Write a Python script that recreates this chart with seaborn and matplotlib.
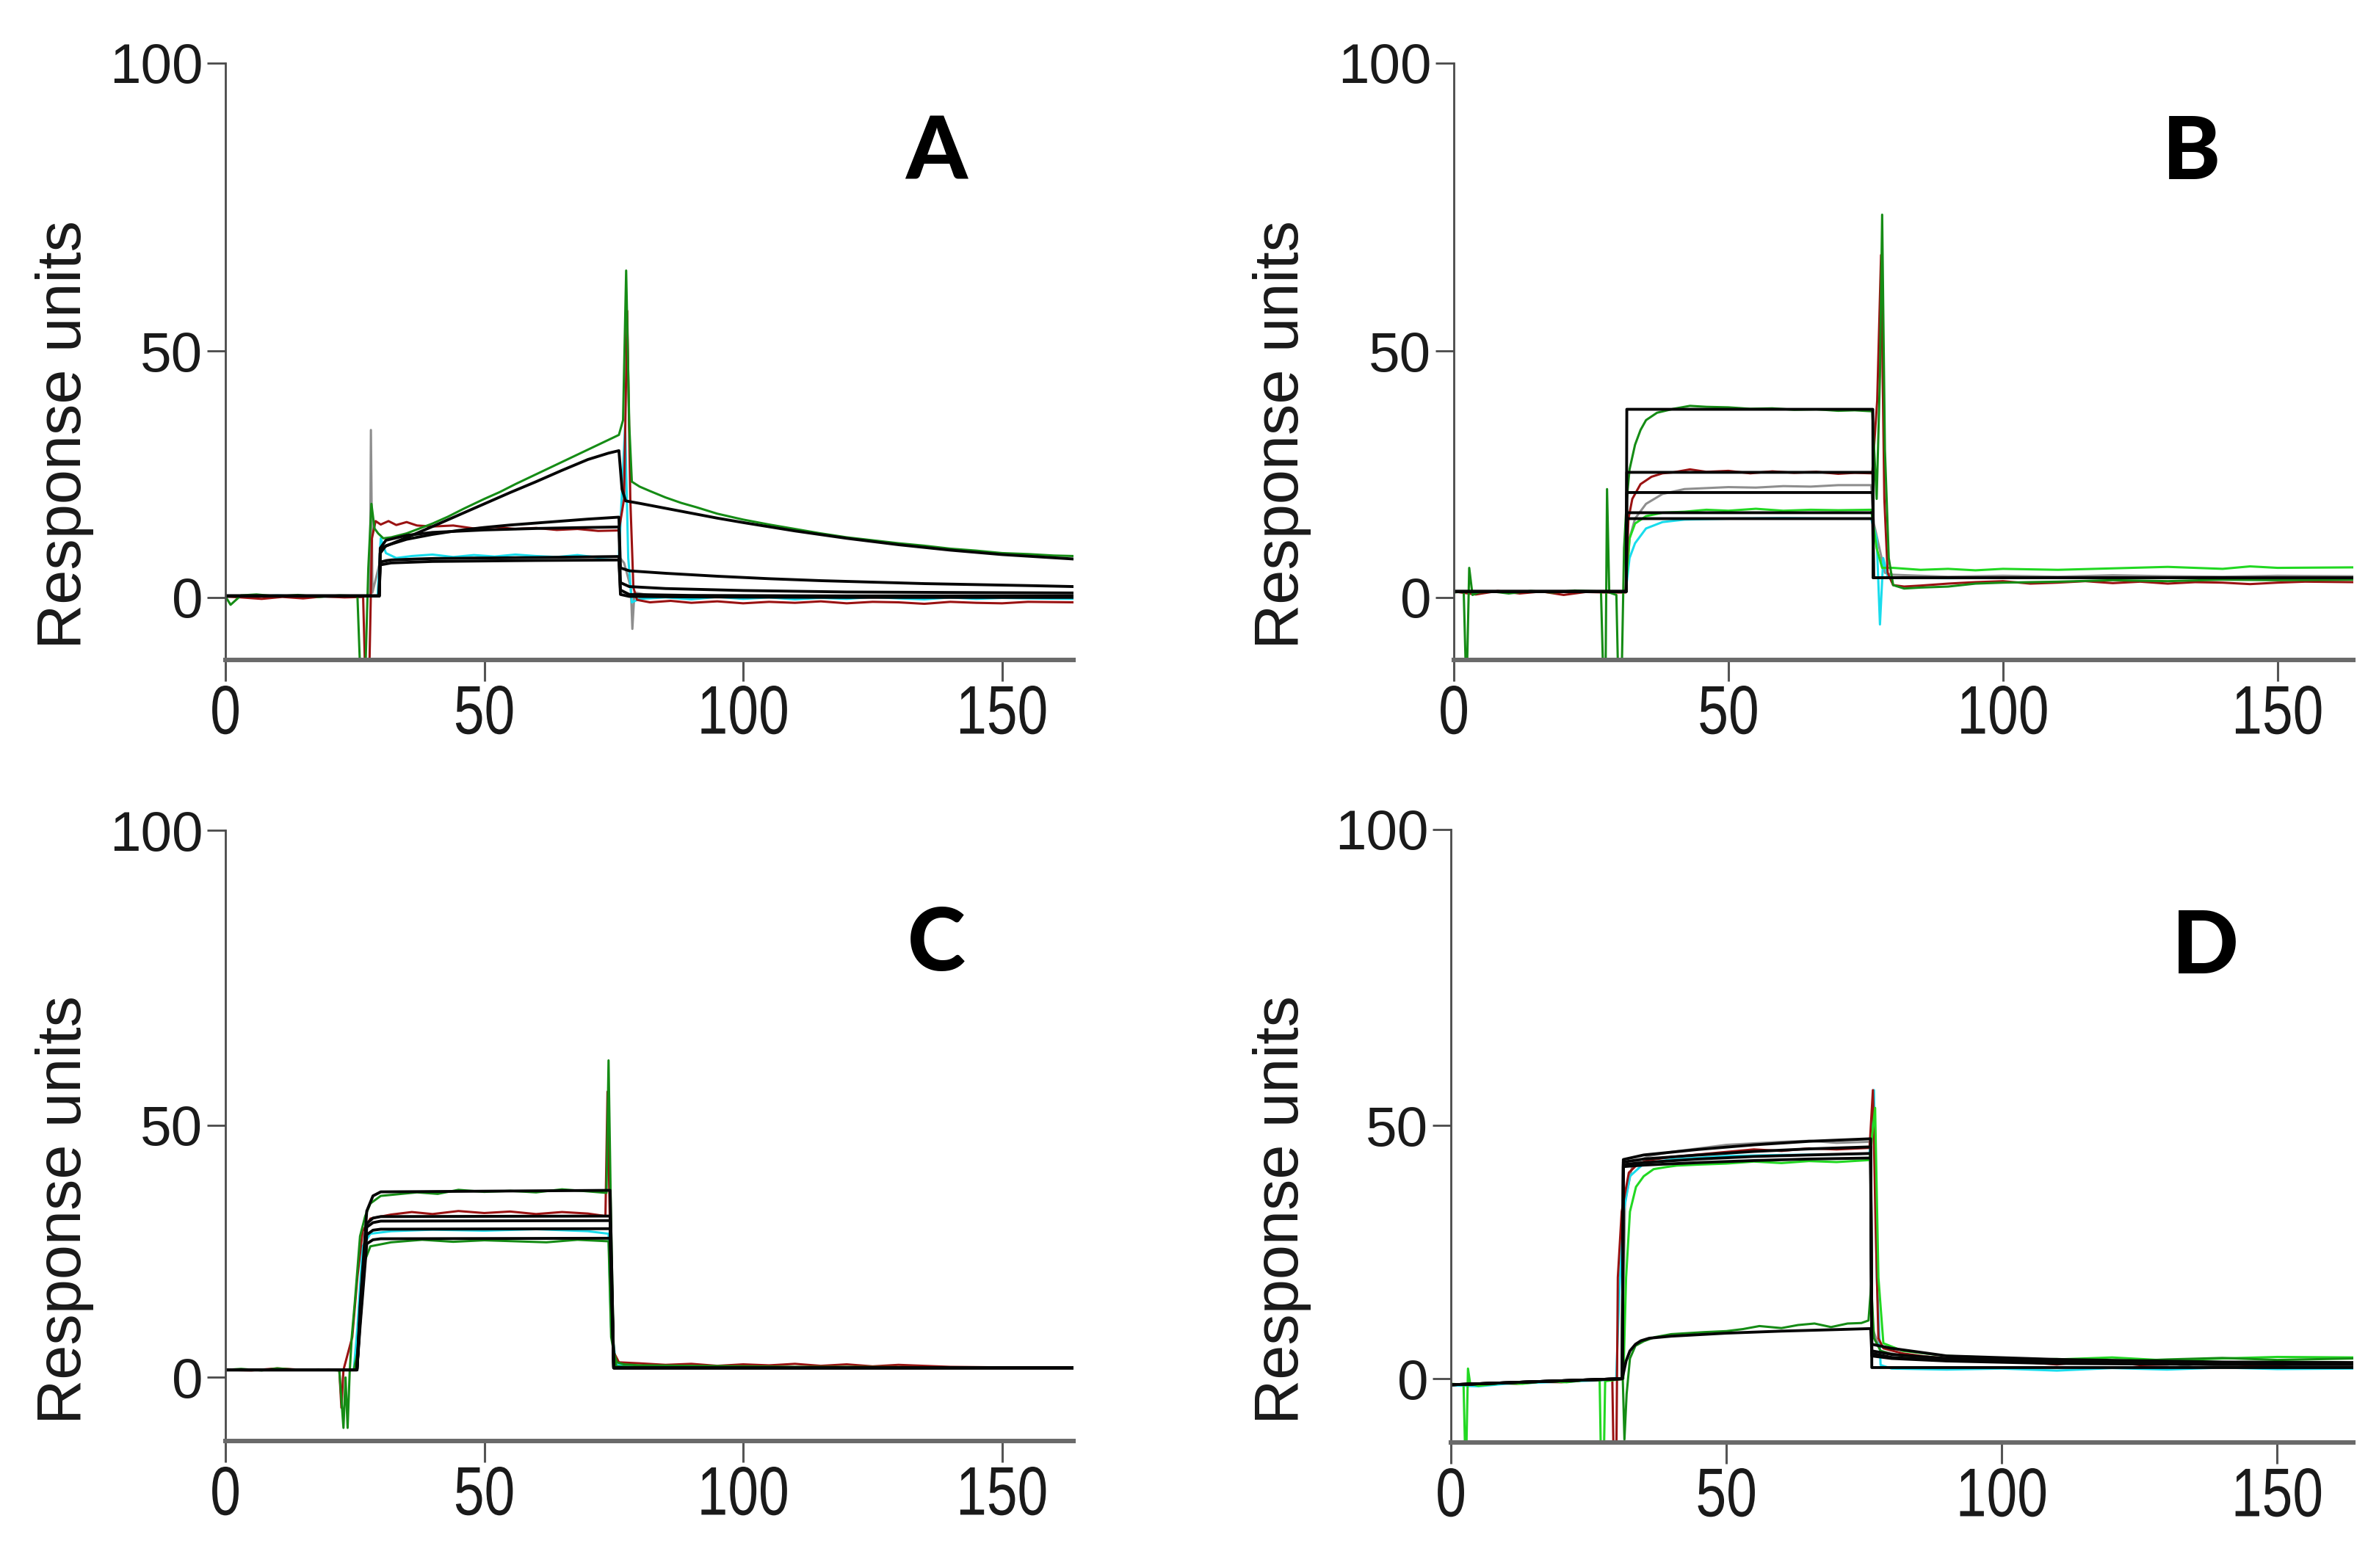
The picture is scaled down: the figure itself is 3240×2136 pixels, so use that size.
import numpy as np
import matplotlib
matplotlib.use("Agg")
import matplotlib.pyplot as plt
from matplotlib import font_manager
from matplotlib.patheffects import AbstractPathEffect
from matplotlib.transforms import Affine2D
import seaborn as sns

# ---------------- data (time in s, response in RU) ----------------
# Panel A
a_green_t = [0, 1, 3, 6, 10, 14, 18, 22, 25.5, 26.2, 26.9, 27.6, 28.2, 28.8, 29.5, 30.5, 32, 35, 38, 40, 43, 46, 50, 53, 56, 60, 63, 66, 70, 73, 76, 76.8, 77.4, 78.0, 78.5, 80, 82, 85, 88, 91, 95, 100, 105, 110, 115, 120, 125, 130, 135, 140, 145, 150, 155, 160, 163.8]
a_green_ru = [0.2, -1.5, 0.4, 0.6, 0.2, 0.5, 0.1, 0.4, 0.3, -20, -20, 6, 19, 14, 13, 12, 12.2, 13, 14.2, 15, 16.4, 18, 20, 21.4, 23, 25, 26.5, 28, 30, 31.5, 33, 36, 64, 35, 23.5, 22.5, 21.6, 20.3, 19.2, 18.3, 17, 15.8, 14.8, 13.9, 13.0, 12.2, 11.6, 11.0, 10.5, 9.9, 9.5, 9.0, 8.8, 8.5, 8.4]
a_red_t = [0, 3, 7, 11, 15, 19, 23, 26.6, 27.1, 27.7, 28.3, 29.0, 30, 31.5, 33, 35, 37, 40, 44, 48, 52, 56, 60, 64, 68, 72, 76, 77.0, 77.6, 78.2, 78.8, 79.5, 82, 86, 90, 95, 100, 105, 110, 115, 120, 125, 130, 135, 140, 145, 150, 155, 163.8]
a_red_ru = [0.2, 0.0, -0.3, 0.1, -0.2, 0.2, 0.0, 0.1, -20, -20, 12, 15.5, 14.8, 15.5, 14.7, 15.3, 14.6, 14.4, 14.6, 14.0, 14.3, 13.9, 14.1, 13.7, 13.9, 13.5, 13.6, 20, 57, 20, 2, -0.5, -1.0, -0.7, -1.1, -0.8, -1.2, -0.9, -1.1, -0.8, -1.2, -0.9, -1.0, -1.3, -0.9, -1.1, -1.2, -0.9, -1.0]
a_cyan_t = [0, 5, 10, 15, 20, 25, 29.4, 30.0, 31, 33, 36, 40, 44, 48, 52, 56, 60, 64, 68, 72, 76, 77.2, 77.8, 78.5, 80, 85, 90, 95, 100, 105, 110, 115, 120, 125, 130, 135, 140, 145, 150, 155, 163.8]
a_cyan_ru = [0.3, 0.2, 0.4, 0.2, 0.3, 0.2, 0.3, 12, 9, 8.0, 8.4, 8.7, 8.2, 8.6, 8.3, 8.7, 8.4, 8.2, 8.6, 8.1, 8.3, 35, 8, -1, -0.3, 0, -0.4, 0.1, -0.3, 0, -0.4, -0.1, -0.3, 0.1, -0.2, -0.4, 0, -0.3, -0.1, -0.2, -0.3]
a_gray_t = [0, 10, 20, 27.9, 28.1, 28.4, 29.8, 31, 35, 45, 55, 65, 76, 77, 78.3, 78.6, 79.0, 82, 100, 130, 163.8]
a_gray_ru = [0.1, 0.2, 0.1, 0.2, 34, 1, 7, 7.6, 7.8, 8.0, 8.1, 8.2, 8.3, 7, 2, -6.4, 1, 0.4, 0.3, 0.2, 0.2]
a_fit1_t = [0, 29.7, 29.9, 30.5, 33, 36, 40, 45, 50, 55, 60, 65, 70, 74, 76, 76.6, 77.3, 80, 85, 90, 95, 100, 110, 120, 130, 140, 150, 163.8]
a_fit1_ru = [0.3, 0.3, 9, 10.2, 11.3, 12.6, 14.4, 16.7, 19, 21.3, 23.5, 25.8, 28, 29.3, 29.8, 22, 19.6, 19.1, 18.1, 17.1, 16.1, 15.2, 13.5, 12, 10.7, 9.6, 8.7, 7.8]
a_fit2_t = [0, 29.7, 29.9, 31, 35, 40, 45, 50, 55, 60, 65, 70, 76, 76.3, 78, 85, 95, 105, 115, 125, 135, 145, 155, 163.8]
a_fit2_ru = [0.3, 0.3, 9, 10.5, 11.8, 12.8, 13.6, 14.2, 14.7, 15.1, 15.5, 15.9, 16.3, 6, 5.4, 4.9, 4.3, 3.8, 3.4, 3.1, 2.8, 2.6, 2.4, 2.2]
a_fit3_t = [0, 29.7, 29.9, 31, 35, 40, 50, 60, 70, 76, 76.3, 78, 85, 100, 120, 140, 163.8]
a_fit3_ru = [0.3, 0.3, 10, 11.6, 12.6, 13.2, 13.7, 14.0, 14.2, 14.3, 3, 2.2, 1.8, 1.4, 1.1, 1.0, 0.9]
a_fit45_t = [0, 29.7, 29.9, 32, 40, 50, 60, 76, 76.3, 78, 90, 120, 163.8]
a_fit4_ru = [0.3, 0.3, 7.2, 7.6, 7.9, 8.0, 8.1, 8.3, 1.5, 0.6, 0.4, 0.3, 0.3]
a_fit5_ru = [0.3, 0.3, 6.6, 7.0, 7.3, 7.4, 7.5, 7.6, 0.6, 0.2, 0.1, 0.0, 0.0]

# Panel B
b_green_t = [0, 1.8, 2.3, 2.8, 3.4, 4.5, 7, 10, 14, 18, 22, 26.8, 27.3, 27.6, 27.9, 28.3, 29.6, 30.0, 30.5, 31.0, 31.5, 32, 33, 34, 35, 37, 40, 43, 46, 50, 54, 58, 62, 66, 70, 73, 76.2, 77.0, 77.6, 78.0, 78.5, 79.2, 80, 82, 85, 90, 95, 100, 110, 120, 130, 140, 150, 163.8]
b_green_ru = [1.0, 1.2, -20, 6, 0.5, 1.0, 1.2, 0.8, 1.3, 1.0, 1.4, 1.2, -20, -20, 22, 1, 0.5, -20, -20, 10, 20, 26, 31, 34, 36, 37.5, 38.3, 38.9, 38.7, 38.6, 38.3, 38.4, 38.1, 38.2, 37.9, 38.0, 37.8, 20, 45, 73.7, 30, 8, 2.5, 1.8, 2.0, 2.2, 2.8, 3.0, 3.2, 3.5, 3.3, 3.6, 3.5, 3.6]
b_red_t = [0, 4, 8, 12, 16, 20, 24, 28, 31.3, 31.8, 32.5, 34, 36, 38, 40, 43, 46, 50, 54, 58, 62, 66, 70, 73, 76.2, 77.1, 77.8, 78.4, 79.0, 80, 82, 85, 90, 95, 100, 105, 110, 115, 120, 125, 130, 135, 140, 145, 150, 155, 163.8]
b_red_ru = [1.2, 0.6, 1.3, 0.8, 1.2, 0.5, 1.1, 1.0, 1.0, 16, 20, 23, 24.5, 25.2, 25.4, 26.0, 25.5, 25.7, 25.2, 25.6, 25.3, 25.5, 25.1, 25.3, 25.2, 40, 66.7, 20, 5, 2.5, 2.2, 2.4, 2.8, 3.1, 3.3, 2.8, 3.0, 3.3, 2.9, 3.2, 2.8, 3.1, 3.0, 2.7, 3.0, 3.2, 3.1]
b_gray_t = [0, 31.3, 32, 33, 35, 38, 42, 46, 50, 55, 60, 65, 70, 76, 76.5, 77.5, 78.5, 80, 90, 100, 110, 120, 130, 140, 150, 163.8]
b_gray_ru = [1.2, 1.2, 12, 16, 19, 21, 22, 22.2, 22.4, 22.3, 22.6, 22.5, 22.8, 22.8, 15, 10, 5, 4.6, 4.2, 4.4, 4.2, 4.5, 4.3, 4.2, 4.4, 4.3]
b_lime_t = [0, 31.3, 32, 33, 35, 38, 42, 46, 50, 55, 60, 65, 70, 76, 77, 78, 80, 85, 90, 95, 100, 110, 120, 130, 140, 145, 150, 163.8]
b_lime_ru = [1.2, 1.2, 12, 15, 16.5, 17.2, 17.4, 17.8, 17.6, 18.0, 17.6, 17.8, 17.7, 17.8, 10, 6, 6.0, 5.6, 5.8, 5.5, 5.8, 5.6, 5.9, 6.2, 5.8, 6.3, 6.0, 6.1]
b_cyan_t = [0, 31.3, 32, 33, 35, 38, 42, 50, 60, 70, 76, 77.0, 77.6, 78.2, 79, 80, 90, 100, 120, 140, 163.8]
b_cyan_ru = [1.2, 1.2, 8, 11, 14, 15.3, 15.8, 16.0, 16.1, 16.0, 16.0, 12, -5.5, 8, 4.3, 4.0, 3.9, 4.0, 3.9, 4.0, 4.0]
b_fit_t = [0, 31.4, 31.5, 76.3, 76.4, 163.8]
b_fit1_ru = [1.2, 1.2, 38.2, 38.2, 4.0, 4.0]
b_fit2_ru = [1.2, 1.2, 25.4, 25.4, 4.0, 4.0]
b_fit3_ru = [1.2, 1.2, 21.3, 21.3, 4.0, 4.0]
b_fit4_ru = [1.2, 1.2, 17.2, 17.2, 4.0, 4.0]
b_fit5_ru = [1.2, 1.2, 16.0, 16.0, 4.0, 4.0]

# Panel C
c_green_t = [0, 3, 7, 10, 14, 18, 22, 22.8, 23.2, 23.6, 24.0, 24.4, 25, 26, 27, 28, 30, 33, 37, 41, 45, 50, 55, 60, 65, 70, 73.6, 74.0, 74.5, 75.0, 75.6, 77, 80, 90, 100, 110, 120, 140, 163.8]
c_green_ru = [1.5, 1.7, 1.4, 1.8, 1.5, 1.6, 1.4, -10, 0, -10, 1, 8, 15, 28, 32, 34.5, 36, 36.3, 36.7, 36.4, 37.2, 36.8, 37.0, 36.7, 37.3, 36.9, 36.6, 61, 30, 5, 3.0, 2.6, 2.4, 2.3, 2.2, 2.1, 2.1, 2.0, 2.0]
c_red_t = [0, 5, 10, 15, 20, 22.0, 22.4, 22.8, 24.5, 25.5, 26.5, 28, 32, 36, 40, 45, 50, 55, 60, 65, 70, 73.4, 73.8, 74.3, 75.0, 76, 80, 85, 90, 95, 100, 105, 110, 115, 120, 125, 130, 140, 150, 163.8]
c_red_ru = [1.5, 1.4, 1.8, 1.5, 1.6, 1.5, -6, 1.5, 8, 20, 29, 31.5, 32.3, 32.8, 32.4, 33.0, 32.6, 32.9, 32.4, 32.8, 32.5, 32.0, 55.7, 28, 5, 3.0, 2.8, 2.5, 2.7, 2.3, 2.6, 2.4, 2.7, 2.3, 2.6, 2.2, 2.5, 2.1, 2.0, 2.0]
c_cyan_t = [0, 24.8, 25.5, 26.5, 28, 32, 40, 50, 60, 70, 74, 74.5, 75.5, 80, 163.8]
c_cyan_ru = [1.5, 1.5, 10, 26, 28.5, 29.0, 29.3, 29.1, 29.4, 29.0, 28.5, 10, 2.5, 2.0, 2.0]
c_green2_t = [0, 24.8, 25.5, 26.5, 28, 32, 38, 44, 50, 56, 62, 68, 74, 74.5, 75.5, 80, 163.8]
c_green2_ru = [1.5, 1.5, 5, 22, 26, 26.8, 27.3, 26.9, 27.2, 27.0, 26.8, 27.3, 27.0, 8, 2.2, 2.0, 2.0]
c_fit_t = [0, 25.4, 26.0, 27.3, 28.5, 30, 74.3, 75.0, 163.8]
c_fit1_ru = [1.5, 1.5, 14, 33, 36, 36.8, 37.1, 1.9, 1.9]
c_fit2_ru = [1.5, 1.5, 12, 30.5, 31.6, 31.9, 32.0, 1.9, 1.9]
c_fit3_ru = [1.5, 1.5, 12, 29.8, 30.7, 31.0, 31.1, 1.9, 1.9]
c_fit4_ru = [1.5, 1.5, 11, 28.3, 29.2, 29.4, 29.5, 1.9, 1.9]
c_fit5_ru = [1.5, 1.5, 10, 26.5, 27.3, 27.5, 27.6, 1.9, 1.9]

# Panel D
d_red_t = [0, 4, 8, 12, 16, 20, 24, 29.3, 29.6, 30.0, 30.3, 31, 32.3, 34, 36, 40, 45, 50, 55, 60, 65, 70, 76.0, 76.6, 77.1, 77.6, 78.5, 82, 86, 90, 95, 100, 105, 110, 115, 120, 125, 130, 135, 140, 145, 150, 155, 163.8]
d_red_ru = [-1.1, -1.2, -0.8, -1.0, -0.6, -0.7, -0.3, -0.2, -20, -20, 20, 33, 40.7, 42.5, 43.2, 43.8, 44.3, 44.8, 45.3, 45.0, 45.5, 45.3, 45.6, 56, 30, 8, 6, 5, 4.4, 4.0, 3.5, 3.8, 3.2, 2.8, 3.4, 3.3, 2.7, 2.8, 3.3, 3.2, 2.6, 2.6, 3.1, 3.0]
d_cyan_t = [0, 5, 10, 20, 30.0, 30.5, 31.2, 32.5, 35, 40, 50, 60, 70, 76.0, 76.8, 77.3, 78.0, 80, 90, 100, 110, 120, 130, 140, 150, 163.8]
d_cyan_ru = [-1.3, -1.5, -1.0, -0.6, -0.2, 15, 32, 40, 42.5, 43.3, 44.0, 44.2, 44.3, 44.5, 56, 20, 2.7, 2.0, 1.8, 2.0, 1.6, 2.1, 1.8, 2.2, 1.9, 2.0]
d_lime_t = [0, 2.3, 2.7, 3.1, 3.5, 5, 9, 13, 17, 21, 25, 27.0, 27.3, 27.7, 28.0, 31.3, 31.8, 32.5, 33.6, 35, 36.8, 39, 41, 45, 50, 55, 60, 65, 70, 76.0, 77.0, 77.6, 78.5, 82, 86, 90, 95, 100, 110, 120, 130, 140, 150, 163.8]
d_lime_ru = [-1.0, -1.2, -20, 2, -1.0, -1.4, -0.9, -1.0, -0.5, -0.7, -0.2, -0.3, -20, -20, -0.5, 0, 20, 33, 37.9, 40.0, 41.4, 41.8, 42.1, 42.3, 42.5, 42.9, 42.6, 43.0, 42.8, 43.2, 53, 20, 7, 5.5, 5.0, 4.5, 4.3, 4.0, 3.8, 4.2, 3.6, 4.0, 4.3, 4.2]
d_gray_t = [0, 31.1, 31.6, 33, 36, 40, 45, 50, 55, 60, 65, 70, 76.0, 76.5, 78, 82, 90, 100, 110, 120, 130, 135, 140, 150, 163.8]
d_gray_ru = [-1.2, 0, 35, 42.5, 44, 44.8, 45.5, 46.2, 46.5, 46.8, 47.0, 46.6, 46.8, 10, 5.5, 4.5, 4.0, 3.6, 3.3, 3.0, 3.2, 2.2, 2.5, 2.4, 2.5]
d_green_t = [0, 31.2, 31.5, 31.9, 32.5, 33.5, 35, 37, 40, 43, 46, 50, 53, 56, 60, 63, 66, 69, 72, 74.5, 75.8, 76.3, 76.8, 78, 80, 85, 90, 100, 110, 120, 130, 140, 150, 163.8]
d_green_ru = [-1.2, 0, -12, -3, 4, 6.5, 7.4, 8.2, 8.8, 9.0, 9.2, 9.4, 9.8, 10.4, 10.0, 10.6, 10.9, 10.2, 10.9, 11.0, 11.5, 18.6, 8, 5.5, 4.8, 4.3, 3.8, 3.6, 3.9, 3.4, 3.8, 4.1, 3.7, 4.0]
d_fit_t = [0, 15, 31.1, 31.3, 35, 45, 55, 65, 76.2, 76.4, 80, 90, 110, 140, 163.8]
d_fit1_ru = [-1.2, -0.6, 0, 43.3, 44.2, 45.3, 46.2, 46.9, 47.4, 6.8, 6.0, 4.5, 3.8, 3.3, 3.2]
d_fit2_ru = [-1.2, -0.6, 0, 42.8, 43.4, 44.2, 44.9, 45.4, 45.8, 5.5, 4.8, 4.0, 3.5, 3.2, 3.0]
d_fit3_ru = [-1.2, -0.6, 0, 42.3, 42.7, 43.4, 43.9, 44.2, 44.5, 2.2, 2.2, 2.2, 2.2, 2.2, 2.2]
d_fit4_ru = [-1.2, -0.6, 0, 41.9, 42.2, 42.7, 43.1, 43.4, 43.6, 4.5, 4.0, 3.5, 3.0, 2.8, 2.8]
d_fit5_t = [0, 15, 31.1, 31.8, 32.5, 33.5, 34.5, 36, 40, 45, 50, 60, 70, 76.2, 76.4, 80, 90, 110, 140, 163.8]
d_fit5_ru = [-1.2, -0.6, 0, 3.5, 5.5, 6.8, 7.5, 8.0, 8.4, 8.7, 9.0, 9.4, 9.7, 9.9, 5.0, 4.2, 3.6, 3.2, 3.0, 3.0]

panel_letters = ["A", "B", "C", "D"]
x_ticks = [0, 50, 100, 150]
y_ticks = [0, 50, 100]
y_label = "Response units"

# ---------------- styling ----------------
GREEN, LIME, RED, CYAN, GRAY, BLACK = "#158c15", "#22d822", "#9a1212", "#18dcec", "#8e8e8e", "#050505"
OBS_LW, FIT_LW = 1.1, 1.4

sns.set_theme(style="white")
names = {f.name for f in font_manager.fontManager.ttflist}
LETTER = "Lato" if "Lato" in names else "DejaVu Sans"
plt.rcParams["font.family"] = ["Liberation Sans", "DejaVu Sans"]
plt.rcParams["axes.edgecolor"] = "#4a4a4a"

K = 1.17  # the upper half of the printed y axis is slightly stretched


def fwd(y):
    y = np.asarray(y, dtype=float)
    return np.where(y <= 50, y, 50 + (y - 50) * K)


def inv(z):
    z = np.asarray(z, dtype=float)
    return np.where(z <= 50, z, 50 + (z - 50) / K)


class VStretch(AbstractPathEffect):
    """Stretch text vertically, keeping its top edge fixed (tall, narrow digits)."""

    def __init__(self, factor):
        super().__init__()
        self.factor = factor

    def draw_path(self, renderer, gc, tpath, affine, rgbFace=None):
        top = tpath.get_extents(affine).y1
        new = affine + Affine2D().translate(0, -top).scale(1, self.factor).translate(0, top)
        renderer.draw_path(gc, tpath, new, rgbFace)


W, H = 3240, 2136
fig = plt.figure(figsize=(W / 200, H / 200), dpi=200)
fig.patch.set_facecolor("white")

panels = [
    dict(px=(307, 1462, 86, 899), ybot=-12.7, letter_px=(1275, 210),
         obs=[(a_gray_t, a_gray_ru, GRAY), (a_cyan_t, a_cyan_ru, CYAN), (a_red_t, a_red_ru, RED),
              (a_green_t, a_green_ru, GREEN)],
         fits=[(a_fit1_t, a_fit1_ru), (a_fit2_t, a_fit2_ru), (a_fit3_t, a_fit3_ru),
               (a_fit45_t, a_fit4_ru), (a_fit45_t, a_fit5_ru)]),
    dict(px=(1980, 3205, 86, 899), ybot=-12.7, letter_px=(2984, 210),
         obs=[(b_gray_t, b_gray_ru, GRAY), (b_cyan_t, b_cyan_ru, CYAN), (b_lime_t, b_lime_ru, LIME),
              (b_red_t, b_red_ru, RED), (b_green_t, b_green_ru, GREEN)],
         fits=[(b_fit_t, b_fit1_ru), (b_fit_t, b_fit2_ru), (b_fit_t, b_fit3_ru),
               (b_fit_t, b_fit4_ru), (b_fit_t, b_fit5_ru)]),
    dict(px=(307, 1462, 1131, 1963), ybot=-12.6, letter_px=(1275, 1288),
         obs=[(c_cyan_t, c_cyan_ru, CYAN), (c_green2_t, c_green2_ru, GREEN), (c_red_t, c_red_ru, RED),
              (c_green_t, c_green_ru, GREEN)],
         fits=[(c_fit_t, c_fit1_ru), (c_fit_t, c_fit2_ru), (c_fit_t, c_fit3_ru),
               (c_fit_t, c_fit4_ru), (c_fit_t, c_fit5_ru)]),
    dict(px=(1976, 3205, 1130, 1965), ybot=-12.6, letter_px=(3003, 1292),
         obs=[(d_gray_t, d_gray_ru, GRAY), (d_cyan_t, d_cyan_ru, CYAN), (d_red_t, d_red_ru, RED),
              (d_lime_t, d_lime_ru, LIME), (d_green_t, d_green_ru, GREEN)],
         fits=[(d_fit_t, d_fit1_ru), (d_fit_t, d_fit2_ru), (d_fit_t, d_fit3_ru),
               (d_fit_t, d_fit4_ru), (d_fit5_t, d_fit5_ru)]),
]

axes = []
for letter, p in zip(panel_letters, panels):
    x0, x1, y0, y1 = p["px"]
    ax = fig.add_axes([x0 / W, 1 - y1 / H, (x1 - x0) / W, (y1 - y0) / H])
    axes.append(ax)
    ax.set_facecolor("white")
    for t, ru, col in p["obs"]:
        sns.lineplot(x=t, y=ru, ax=ax, color=col, linewidth=OBS_LW, sort=False,
                     estimator=None, legend=False)
    for t, ru in p["fits"]:
        sns.lineplot(x=t, y=ru, ax=ax, color=BLACK, linewidth=FIT_LW, sort=False,
                     estimator=None, legend=False)
    ax.set_yscale("function", functions=(fwd, inv))
    ax.set_xlim(0, 163.8)
    ax.set_ylim(p["ybot"], 100)
    ax.set_xticks(x_ticks)
    ax.set_yticks(y_ticks)
    ax.set_xticklabels([str(v) for v in x_ticks], fontsize=27)
    ax.set_yticklabels([str(v) for v in y_ticks], fontsize=27.5)
    ax.minorticks_off()
    for s in ("top", "right"):
        ax.spines[s].set_visible(False)
    ax.spines["left"].set_color("#4a4a4a")
    ax.spines["left"].set_linewidth(1.0)
    ax.spines["bottom"].set_color("#6a6a6a")
    ax.spines["bottom"].set_linewidth(2.2)
    ax.tick_params(axis="y", direction="out", length=9, width=1.0, color="#4a4a4a",
                   pad=2, labelcolor="#1a1a1a", left=True)
    ax.tick_params(axis="x", direction="out", length=10.5, width=1.1, color="#555555",
                   pad=1.5, labelcolor="#1a1a1a", bottom=True)
    ax.set_xlabel("")
    ax.set_ylabel(y_label, fontsize=30.5, color="#1a1a1a")
    lx = (1786 - x0) / (x1 - x0) if x0 > 1000 else (128 - x0) / (x1 - x0)
    ly = (y1 - (592 if y0 < 500 else 1648)) / (y1 - y0)
    ax.yaxis.set_label_coords(lx, ly)
    fig.text(p["letter_px"][0] / W, 1 - p["letter_px"][1] / H, letter, fontsize=43,
             fontweight="black", fontfamily=LETTER, ha="center", va="center", color="black")

for ax in axes:
    for tick in ax.xaxis.get_major_ticks():
        tick.label1.set_path_effects([VStretch(1.25)])

fig.savefig("out.png", dpi=200, facecolor="white")
